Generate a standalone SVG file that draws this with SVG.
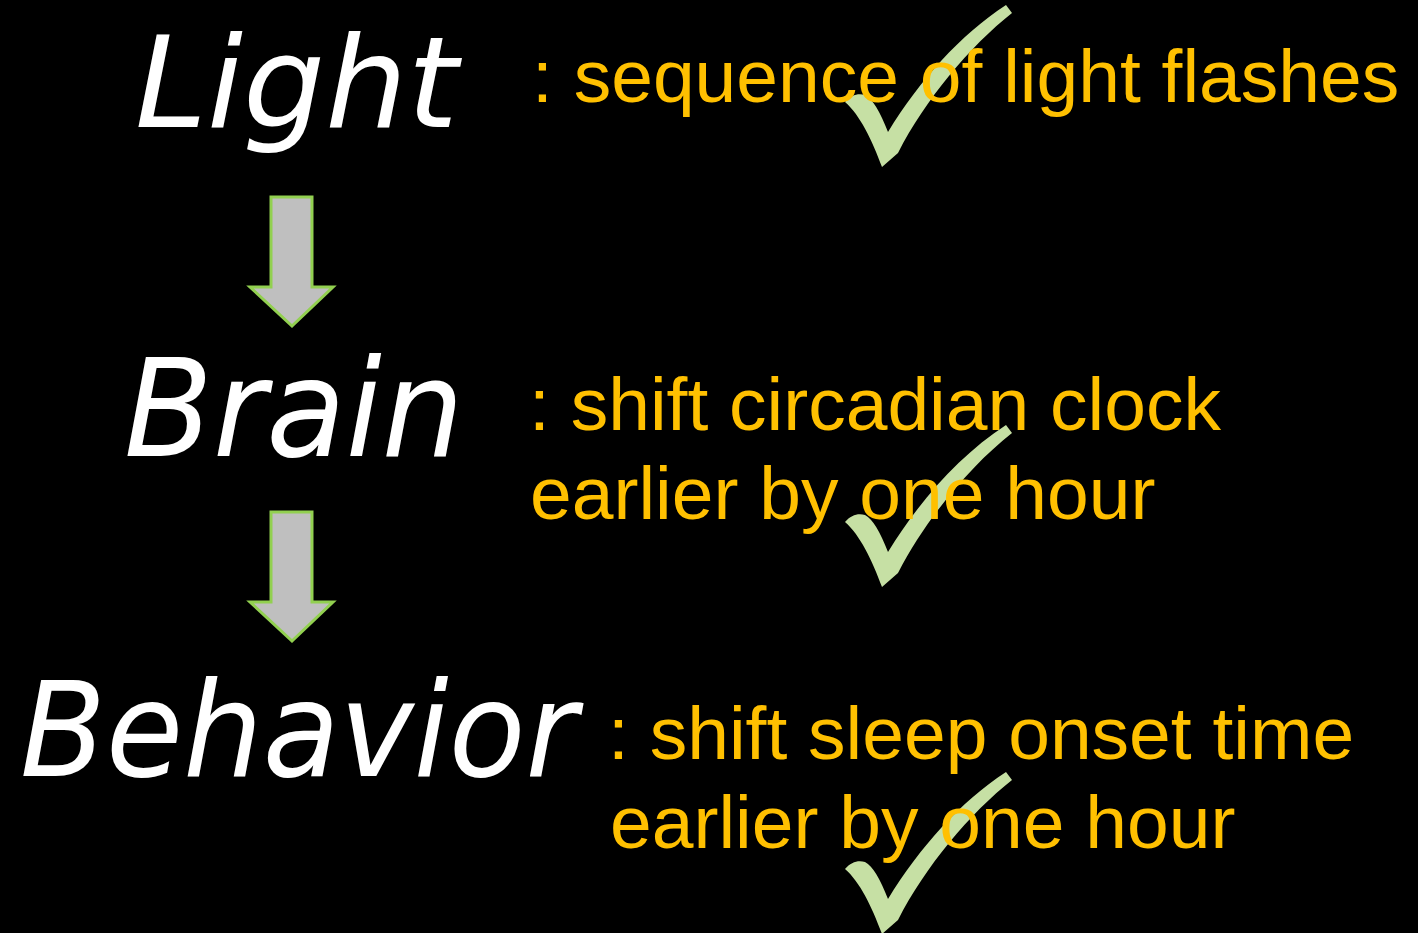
<svg xmlns="http://www.w3.org/2000/svg" width="1418" height="933" viewBox="0 0 1418 933">
  <style>
    .hand { font-family: "Segoe Print", "DejaVu Sans", sans-serif; font-style: oblique; fill: #FFFFFF; }
    .desc { font-family: "Liberation Sans", Arial, sans-serif; font-size: 75px; fill: #FFC000; }
    .arrow { fill: #BFBFBF; stroke: #92D050; stroke-width: 3; stroke-linejoin: miter; }
    .check { fill: #C6E0A4; }
  </style>
  <defs>
    <path id="tick" class="check" d="M845,522 C851,515 858,513 865,515 C873,519 880,532 888,552 C920,500 960,455 1006,425 L1012,433 C970,466 925,520 898,573 L882,587 C872,560 860,535 845,522 Z"/>
  </defs>
  <rect x="0" y="0" width="1418" height="933" fill="#000000"/>

  <g id="checks">
    <use href="#tick" transform="translate(0,-420)"/>
    <use href="#tick"/>
    <use href="#tick" transform="translate(0,347)"/>
  </g>

  <g id="connectors">
    <path class="arrow" d="M271,197 H312 V287 H333 L292,326 L250,287 H271 Z"/>
    <path class="arrow" d="M271,512 H312 V602 H333 L292,641 L250,602 H271 Z"/>
  </g>

  <g id="node-light">
    <text class="hand" x="135" y="127" font-size="126" textLength="323" lengthAdjust="spacingAndGlyphs">Light</text>
    <text class="desc" x="532" y="102">: sequence of light flashes</text>
  </g>

  <g id="node-brain">
    <text class="hand" x="124" y="456" font-size="136" textLength="340" lengthAdjust="spacingAndGlyphs">Brain</text>
    <text class="desc" x="529" y="430">: shift circadian clock</text>
    <text class="desc" x="530" y="519">earlier by one hour</text>
  </g>

  <g id="node-behavior">
    <text class="hand" x="20" y="776" font-size="132" textLength="557" lengthAdjust="spacingAndGlyphs">Behavior</text>
    <text class="desc" x="608" y="759">: shift sleep onset time</text>
    <text class="desc" x="610" y="848">earlier by one hour</text>
  </g>
</svg>
